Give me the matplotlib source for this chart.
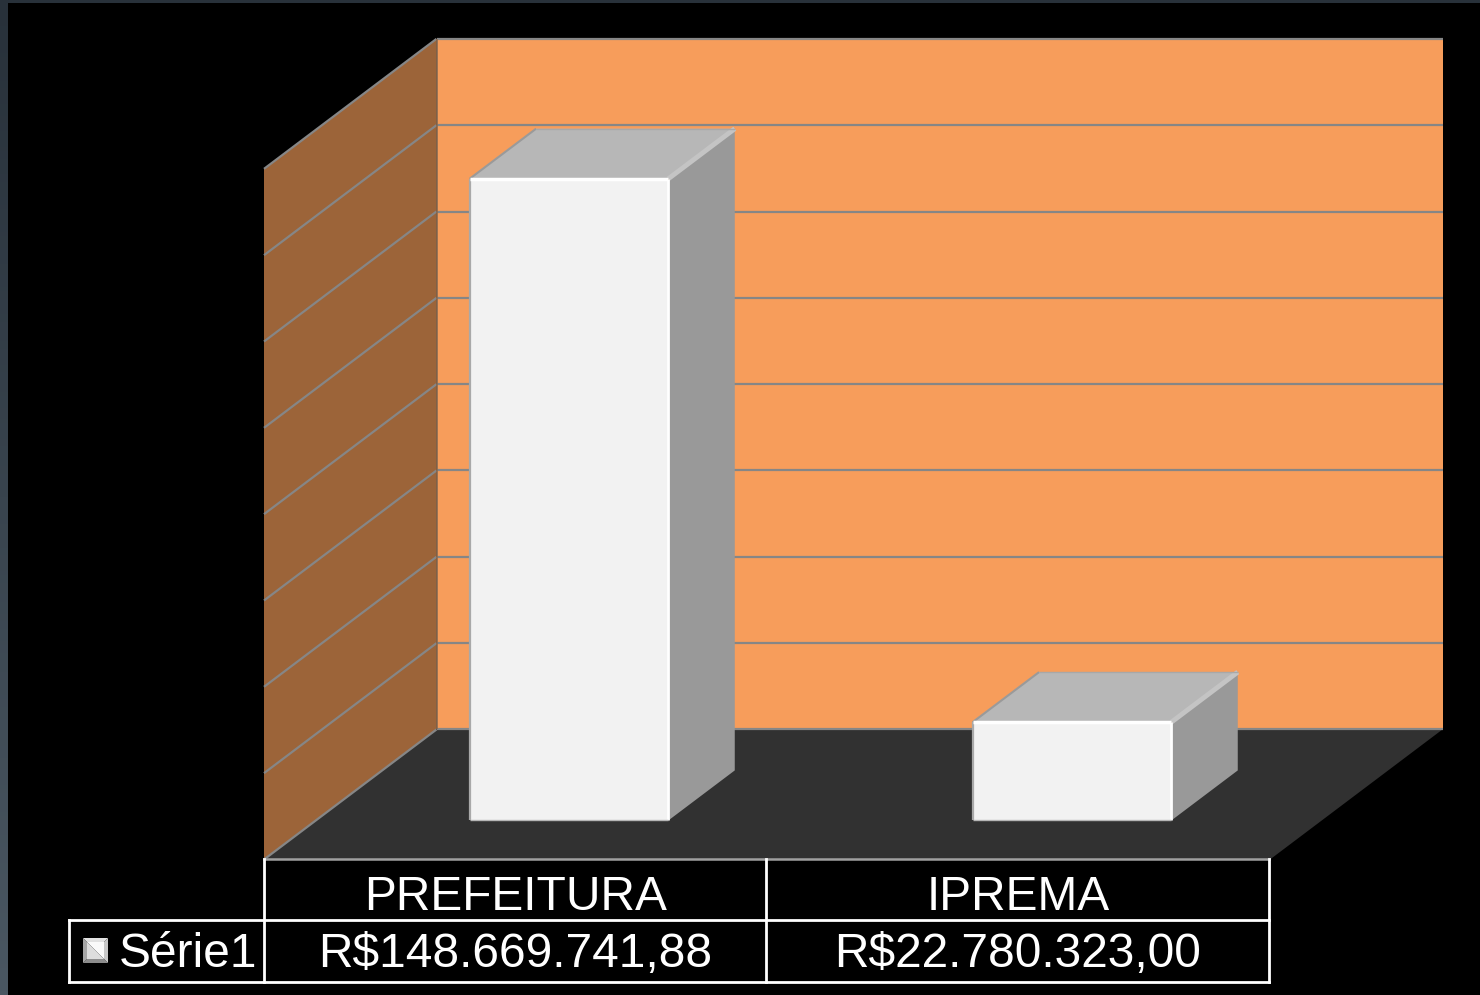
import numpy as np
import matplotlib
matplotlib.use("Agg")
from matplotlib import pyplot as plt
from matplotlib.colors import LinearSegmentedColormap
from matplotlib.patches import Polygon

plt.rcParams['font.family'] = ['Liberation Sans', 'DejaVu Sans']

categories = ['PREFEITURA', 'IPREMA']
values = [148.66974188, 22.780323]  # millions of R$
value_labels = ['R$148.669.741,88', 'R$22.780.323,00']
series_name = 'Série1'
grid_values = [0, 20, 40, 60, 80, 100, 120, 140, 160]

W, H = 1480, 995
PX_PER_CAT = 503.0
PX_PER_VAL = 4.316
X0, Y0 = 264.0, 859.5   # front left corner of the floor
DEPTH_X, DEPTH_Y = 172.5, 130.0

WALL = '#F79D5B'
SIDE = '#9C6439'
FLOOR = '#313131'
GRID = '#868686'


# floor/wall position -> data coords, depth 0 is the front of the floor and 1 the back wall
def proj(x, v, d):
    return (x + d * DEPTH_X / PX_PER_CAT, v + d * DEPTH_Y / PX_PER_VAL)


def poly(ax, pts, color, z=1):
    ax.add_patch(Polygon(pts, closed=True, facecolor=color, edgecolor='none', zorder=z))


def line(ax, a, b, color=GRID, lw=1.6, z=2):
    ax.plot([a[0], b[0]], [a[1], b[1]], color=color, lw=lw, zorder=z, solid_capstyle='butt')


def draw_bar(ax, x, w, v, d0=0.30, d1=0.685):
    # faces
    poly(ax, [proj(x, v, d0), proj(x + w, v, d0), proj(x + w, v, d1), proj(x, v, d1)], '#B7B7B7', 5)
    poly(ax, [proj(x + w, 0, d0), proj(x + w, 0, d1), proj(x + w, v, d1), proj(x + w, v, d0)], '#999999', 5)
    poly(ax, [proj(x, 0, d0), proj(x + w, 0, d0), proj(x + w, v, d0), proj(x, v, d0)], '#F2F2F2', 6)
    # bevels
    line(ax, proj(x, v, d0), proj(x, v, d1), '#9A9A9A', 1.5, 6)
    line(ax, proj(x + w, v, d0), proj(x + w, v, d1), '#C4C4C4', 3.5, 6)
    line(ax, proj(x, v, d1), proj(x + w, v, d1), '#A8A8A8', 1.0, 6)
    line(ax, proj(x, 0, d0), proj(x, v, d0), '#A9A9A9', 1.6, 7)
    line(ax, proj(x + w, 0, d0), proj(x + w, v, d0), '#FFFFFF', 2.0, 7)
    line(ax, proj(x, v, d0), proj(x + w, v, d0), '#FFFFFF', 2.5, 7)
    line(ax, proj(x, 0, d0), proj(x + w, 0, d0), '#B5B5B5', 1.0, 7)


# the extra tenth of a pixel keeps the saved height at 995
fig = plt.figure(figsize=(W / 100, (H + 0.1) / 100), dpi=100, facecolor='black')

# slate frame down the left and along the top
bg = fig.add_axes([0, 0, 1, 1])
bg.set_axis_off()
slate = LinearSegmentedColormap.from_list('slate', ['#28313A', '#4A5762'])
bg.imshow(np.linspace(0, 1, 256).reshape(-1, 1), cmap=slate, aspect='auto', extent=(0, W, H, 0))
bg.fill_between([8, W], 3, H, color='black', lw=0)
bg.set_xlim(0, W)
bg.set_ylim(H, 0)

# chart axes: x in categories, y in millions of R$
ax = fig.add_axes([0, 0, 1, 1])
ax.patch.set_alpha(0)
ax.set_axis_off()
ax.set_xlim(-X0 / PX_PER_CAT, (W - X0) / PX_PER_CAT)
ax.set_ylim((Y0 - H) / PX_PER_VAL, Y0 / PX_PER_VAL)

n = len(categories)
top = grid_values[-1]
poly(ax, [proj(0, 0, 1), proj(n, 0, 1), proj(n, top, 1), proj(0, top, 1)], WALL)
poly(ax, [proj(0, 0, 0), proj(0, 0, 1), proj(0, top, 1), proj(0, top, 0)], SIDE)
poly(ax, [proj(0, 0, 0), proj(n, 0, 0), proj(n, 0, 1), proj(0, 0, 1)], FLOOR)

for g in grid_values:
    line(ax, proj(0, g, 0), proj(0, g, 1))
    line(ax, proj(0, g, 1), proj(n, g, 1))
line(ax, proj(0, 0, 1), proj(0, top, 1), '#8A6A50', 1.2)

for i, v in enumerate(values):
    draw_bar(ax, i + 0.306, 0.395, v)

# data table underneath, in pixel coords
tb = fig.add_axes([0, 0, 1, 1])
tb.patch.set_alpha(0)
tb.set_axis_off()
tb.set_xlim(0, W)
tb.set_ylim(H, 0)

col_x = [264, 766, 1269]
row_y = [859, 920, 982]
key_left = 69

tb.plot([col_x[0], col_x[-1]], [row_y[0], row_y[0]], color='#A0A0A0', lw=1.8)
tb.plot([key_left, col_x[-1]], [row_y[1], row_y[1]], color='white', lw=2.0)
tb.plot([key_left, col_x[-1]], [row_y[2], row_y[2]], color='white', lw=2.0)
tb.plot([key_left, key_left], [row_y[1], row_y[2]], color='white', lw=2.0)
for cx in col_x:
    tb.plot([cx, cx], [row_y[0], row_y[2]], color='white', lw=2.0)

for i in range(n):
    cx = (col_x[i] + col_x[i + 1]) / 2 + 0.5
    tb.text(cx, 897, categories[i], color='white', fontsize=34.5, ha='center', va='center')
    tb.text(cx, 954, value_labels[i], color='white', fontsize=34.5, ha='center', va='center')
tb.text(119, 954, series_name, color='white', fontsize=34.5, ha='left', va='center')

# legend key, small bevelled square
kx0, kx1, ky0, ky1 = 83, 108, 938, 963
b = 4
poly(tb, [(kx0, ky0), (kx1, ky0), (kx1 - b, ky0 + b), (kx0 + b, ky0 + b)], '#E2E2E2')
poly(tb, [(kx1, ky0), (kx1, ky1), (kx1 - b, ky1 - b), (kx1 - b, ky0 + b)], '#C8C8C8')
poly(tb, [(kx0, ky1), (kx1, ky1), (kx1 - b, ky1 - b), (kx0 + b, ky1 - b)], '#8C8C8C')
poly(tb, [(kx0, ky0), (kx0, ky1), (kx0 + b, ky1 - b), (kx0 + b, ky0 + b)], '#A6A6A6')
poly(tb, [(kx0 + b, ky0 + b), (kx1 - b, ky0 + b), (kx1 - b, ky1 - b)], '#FAFAFA')
poly(tb, [(kx0 + b, ky0 + b), (kx0 + b, ky1 - b), (kx1 - b, ky1 - b)], '#DDDDDD')

fig.savefig('out.png', dpi=100, facecolor='black')
